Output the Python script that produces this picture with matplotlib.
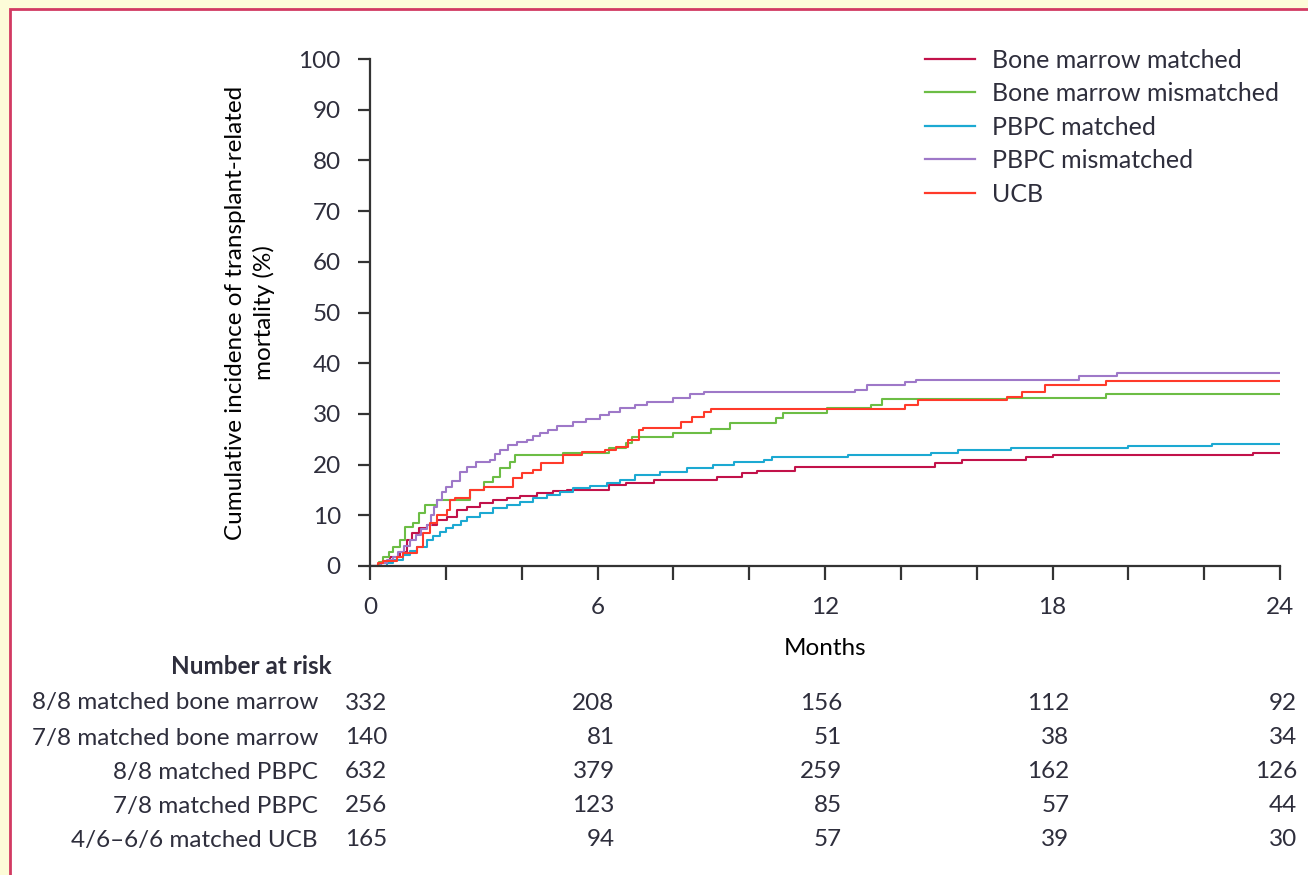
import matplotlib.pyplot as plt
from matplotlib.patches import Rectangle
from matplotlib.transforms import blended_transform_factory

# months / cumulative incidence (%), step curves
bm_matched_t = [0, 0.3, 0.53, 0.8, 0.97, 1.1, 1.3, 1.5, 1.76, 2.03, 2.3, 2.55, 2.9, 3.25, 3.6,
                3.96, 4.4, 4.83, 5.2, 6.3, 6.75, 7.5, 9.15, 9.8, 10.2, 11.2, 14.9, 15.6, 17.3,
                18.0, 23.3, 24]
bm_matched_v = [0, 0.8, 1.8, 2.8, 5.1, 6.5, 7.5, 8.1, 9.1, 9.7, 11.0, 11.6, 12.4, 13.0, 13.4,
                13.8, 14.4, 14.8, 15.0, 16.0, 16.4, 17.0, 17.6, 18.3, 18.7, 19.5, 20.3, 20.9, 21.5,
                21.9, 22.3, 22.3]

bm_mis_t = [0, 0.25, 0.35, 0.5, 0.6, 0.8, 0.92, 1.14, 1.3, 1.45, 1.76, 2.64, 3.0, 3.25, 3.43,
            3.7, 3.82, 5.1, 6.3, 6.75, 6.9, 8.0, 9.0, 9.5, 10.7, 10.9, 12.05, 13.2, 13.5, 16.8,
            19.4, 24]
bm_mis_v = [0, 0.8, 1.8, 2.8, 3.8, 5.1, 7.7, 8.4, 10.4, 12.0, 13.0, 15.0, 16.6, 17.6, 19.3,
            20.5, 21.9, 22.3, 23.3, 24.2, 25.4, 26.2, 27.0, 28.2, 29.2, 30.2, 31.2, 31.8, 32.9, 33.2,
            33.9, 33.9]

pbpc_matched_t = [0, 0.45, 0.6, 0.88, 1.05, 1.23, 1.5, 1.65, 1.85, 2.0, 2.2, 2.4, 2.55, 2.9,
                  3.25, 3.6, 3.96, 4.3, 4.67, 5.0, 5.35, 5.8, 6.25, 6.6, 7.0, 7.65, 8.35, 9.05,
                  9.6, 10.4, 10.6, 12.6, 14.8, 15.5, 16.9, 20.0, 22.2, 24]
pbpc_matched_v = [0, 0.6, 1.2, 2.2, 3.0, 3.8, 5.1, 5.9, 6.7, 7.4, 8.1, 8.9, 9.7, 10.4,
                  11.4, 12.0, 12.6, 13.4, 14.0, 14.6, 15.4, 15.8, 16.4, 17.0, 17.9, 18.5, 19.3, 19.9,
                  20.5, 21.0, 21.5, 21.9, 22.3, 22.9, 23.3, 23.7, 24.1, 24.1]

pbpc_mis_t = [0, 0.3, 0.45, 0.6, 0.75, 0.9, 1.05, 1.2, 1.35, 1.5, 1.6, 1.7, 1.76, 1.9, 2.0,
              2.15, 2.37, 2.55, 2.8, 3.16, 3.3, 3.43, 3.65, 3.87, 4.13, 4.3, 4.48, 4.7, 4.93,
              5.35, 5.7, 6.07, 6.3, 6.6, 7.0, 7.3, 8.0, 8.44, 8.8, 12.8, 13.1, 14.1, 14.4, 18.7,
              19.7, 24]
pbpc_mis_v = [0, 0.6, 1.2, 1.8, 2.8, 4.0, 5.1, 6.2, 7.2, 8.1, 10.0, 11.6, 13.0, 14.5, 15.6,
              16.8, 18.5, 19.5, 20.5, 21.0, 22.0, 22.9, 23.8, 24.5, 24.9, 25.6, 26.2, 26.9, 27.6,
              28.4, 29.0, 29.8, 30.4, 31.1, 31.8, 32.4, 33.1, 33.9, 34.4, 34.8, 35.7, 36.2, 36.7, 37.5,
              38.0, 38.0]

ucb_t = [0, 0.2, 0.35, 0.7, 0.88, 1.23, 1.4, 1.58, 1.76, 2.03, 2.1, 2.24, 2.64, 3.0, 3.78, 4.0,
         4.3, 4.5, 5.1, 5.6, 6.2, 6.5, 6.8, 7.1, 7.2, 8.2, 8.5, 8.8, 9.0, 14.1, 14.45, 16.8, 17.2,
         17.8, 19.4, 24]
ucb_v = [0, 0.6, 1.0, 1.8, 2.5, 3.8, 6.5, 8.4, 10.0, 11.0, 13.0, 13.4, 15.0, 15.6, 17.3, 18.3,
         19.0, 20.3, 21.9, 22.5, 22.9, 23.5, 24.9, 26.8, 27.2, 28.4, 29.4, 30.4, 30.9, 31.8, 32.7, 33.4, 34.4,
         35.7, 36.5, 36.5]

series_names = ["Bone marrow matched", "Bone marrow mismatched", "PBPC matched",
                "PBPC mismatched", "UCB"]
series_t = [bm_matched_t, bm_mis_t, pbpc_matched_t, pbpc_mis_t, ucb_t]
series_v = [bm_matched_v, bm_mis_v, pbpc_matched_v, pbpc_mis_v, ucb_v]
colors = ["#C2124A", "#6CBD45", "#1CA9D2", "#9E78C8", "#FF3A2A"]

risk_labels = ["8/8 matched bone marrow", "7/8 matched bone marrow", "8/8 matched PBPC",
               "7/8 matched PBPC", "4/6\u20136/6 matched UCB"]
risk_months = [0, 6, 12, 18, 24]
risk_counts = [
    [332, 208, 156, 112, 92],
    [140, 81, 51, 38, 34],
    [632, 379, 259, 162, 126],
    [256, 123, 85, 57, 44],
    [165, 94, 57, 39, 30],
]

txt = "#2E2E3C"
plt.rcParams['font.family'] = ['Lato', 'DejaVu Sans']
plt.rcParams['font.size'] = 17.5
plt.rcParams['text.color'] = txt

fig = plt.figure(figsize=(13.08, 8.75), dpi=100, facecolor="#FDFCD8")
# white panel with red frame (top/left edges visible)
fig.patches.append(Rectangle((10 / 1308, -0.05), 1.1, 1.05 - 9 / 875, transform=fig.transFigure,
                             facecolor="white", edgecolor="#D23A62", linewidth=2, zorder=-5))

ax = fig.add_axes([370 / 1308, 1 - 566 / 875, 910 / 1308, 507 / 875])
ax.set_zorder(2)
ax.set_facecolor("none")
for name, t, v, c in zip(series_names, series_t, series_v, colors):
    ax.step(t, v, where="post", color=c, lw=1.5, label=name)

ax.set_xlim(0, 24)
ax.set_ylim(0, 100)
ax.set_xticks(range(0, 25, 6))
ax.set_xticks(range(0, 25, 2), minor=True)
ax.set_yticks(range(0, 101, 10))
ax.spines['top'].set_visible(False)
ax.spines['right'].set_visible(False)
for s in ['left', 'bottom']:
    ax.spines[s].set_color("#333333")
    ax.spines[s].set_linewidth(1.6)
ax.tick_params(axis='x', which='both', direction='out', length=10, width=1.6, color="#333333",
               pad=12, labelcolor=txt)
ax.tick_params(axis='y', direction='out', length=9, width=1.6, color="#333333", pad=12,
               labelcolor=txt)
ax.set_xlabel("Months", labelpad=15)
ax.set_ylabel("Cumulative incidence of transplant-related\nmortality (%)", labelpad=17,
              linespacing=1.35)

leg = ax.legend(loc="upper right", bbox_to_anchor=(1.024, 1.065), frameon=False,
                handlelength=2.0, handletextpad=0.7, labelspacing=0.42, fontsize=18)
for h in leg.get_lines():
    h.set_linewidth(1.6)

tr = blended_transform_factory(ax.transData, fig.transFigure)
fig.text(332 / 1308, 1 - 667 / 875, "Number at risk", ha="right", va="center",
         fontweight="bold")
row_y = [703, 738, 772, 806, 840]
for lab, counts, yy in zip(risk_labels, risk_counts, row_y):
    fy = 1 - yy / 875
    fig.text(318 / 1308, fy, lab, ha="right", va="center")
    for m, n in zip(risk_months, counts):
        ax.text(m + 0.45, fy, str(n), transform=tr, ha="right", va="center")

fig.savefig("out.png", dpi=100, facecolor=fig.get_facecolor())
